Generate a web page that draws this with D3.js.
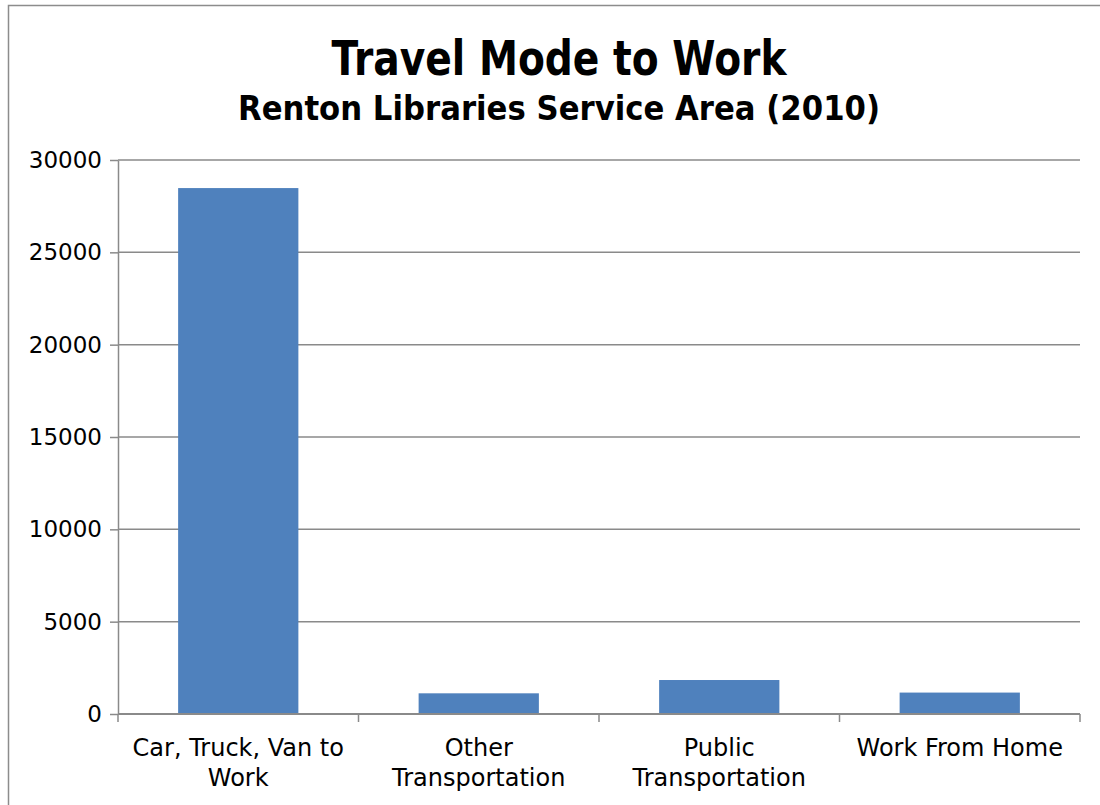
<!DOCTYPE html>
<html>
<head>
<meta charset="utf-8">
<script src="https://cdn.jsdelivr.net/npm/d3@7"></script>
<style>
  body { margin: 0; background: #fff; }
  text { font-family: "DejaVu Sans", Verdana, sans-serif; fill: #000; }
</style>
</head>
<body>
<div id="chart"></div>
<script>
(function() {

  var categories = [['Car, Truck, Van to', 'Work'], ['Other', 'Transportation'], ['Public', 'Transportation'], ['Work From Home']];
  var counts     = [28480, 1120, 1840, 1160];
  var yTicks     = [0, 5000, 10000, 15000, 20000, 25000, 30000];

  var width = 1100, height = 805;
  var left = 118, right = 1080, top = 160, bottom = 714;

  var svg = d3.select('#chart').append('svg')
      .attr('width', width)
      .attr('height', height);

  // outer frame (only top and left edges show in the crop)
  svg.append('path')
      .attr('d', 'M8.5,805 L8.5,5.5 L1100,5.5')
      .attr('fill', 'none')
      .attr('stroke', '#8c8c8c')
      .attr('stroke-width', 1.5);

  svg.append('text')
      .attr('x', 559).attr('y', 75)
      .attr('text-anchor', 'middle')
      .attr('font-weight', 'bold')
      .attr('font-size', 48)
      .attr('textLength', 455)
      .attr('lengthAdjust', 'spacingAndGlyphs')
      .text('Travel Mode to Work');

  svg.append('text')
      .attr('x', 559).attr('y', 120)
      .attr('text-anchor', 'middle')
      .attr('font-weight', 'bold')
      .attr('font-size', 33)
      .attr('textLength', 642)
      .attr('lengthAdjust', 'spacingAndGlyphs')
      .text('Renton Libraries Service Area (2010)');

  var x = d3.scaleBand()
      .domain(d3.range(categories.length))
      .range([left, right])
      .paddingInner(0.5)
      .paddingOuter(0.25);

  var xTick = d3.scaleBand()
      .domain(d3.range(categories.length))
      .range([left, right]);

  var y = d3.scaleLinear()
      .domain([0, 30000])
      .range([bottom, top]);

  // gridlines
  svg.append('g').selectAll('line')
      .data(yTicks.filter(function(t) { return t > 0; }))
      .enter().append('line')
      .attr('x1', left).attr('x2', right)
      .attr('y1', function(d) { return y(d); })
      .attr('y2', function(d) { return y(d); })
      .attr('stroke', '#8a8a8a')
      .attr('stroke-width', 1.5);

  // bars
  svg.append('g').selectAll('rect')
      .data(counts)
      .enter().append('rect')
      .attr('x', function(d, i) { return x(i); })
      .attr('width', x.bandwidth())
      .attr('y', function(d) { return y(d); })
      .attr('height', function(d) { return bottom - y(d); })
      .attr('fill', '#4f81bd');

  // y axis
  var yAxis = svg.append('g')
      .attr('transform', 'translate(' + left + ',0)')
      .call(d3.axisLeft(y).tickValues(yTicks).tickFormat(d3.format('d'))
        .tickSize(8).tickPadding(8).tickSizeOuter(0));
  yAxis.select('.domain').attr('stroke', '#8a8a8a').attr('stroke-width', 1.5);
  yAxis.selectAll('.tick line').attr('stroke', '#8a8a8a').attr('stroke-width', 1.5);
  yAxis.selectAll('.tick text')
      .attr('font-family', '"DejaVu Sans", Verdana, sans-serif')
      .attr('font-size', 23)
      .attr('fill', '#000');

  // x axis line and category ticks
  var xg = svg.append('g');
  xg.append('line')
      .attr('x1', left).attr('x2', right)
      .attr('y1', bottom).attr('y2', bottom)
      .attr('stroke', '#8a8a8a')
      .attr('stroke-width', 2);
  xg.selectAll('line.tick')
      .data(d3.range(categories.length + 1))
      .enter().append('line')
      .attr('class', 'tick')
      .attr('x1', function(i) { return i < categories.length ? xTick(i) : right; })
      .attr('x2', function(i) { return i < categories.length ? xTick(i) : right; })
      .attr('y1', bottom).attr('y2', bottom + 8)
      .attr('stroke', '#8a8a8a')
      .attr('stroke-width', 1.5);

  var labels = xg.selectAll('text')
      .data(categories)
      .enter().append('text')
      .attr('text-anchor', 'middle')
      .attr('font-size', 24)
      .attr('transform', function(d, i) {
        return 'translate(' + (xTick(i) + xTick.bandwidth() / 2) + ',' + 756 + ')';
      });
  labels.selectAll('tspan')
      .data(function(d) { return d; })
      .enter().append('tspan')
      .attr('x', 0)
      .attr('y', function(d, j) { return j * 30; })
      .text(function(d) { return d; });

}());
</script>
</body>
</html>
